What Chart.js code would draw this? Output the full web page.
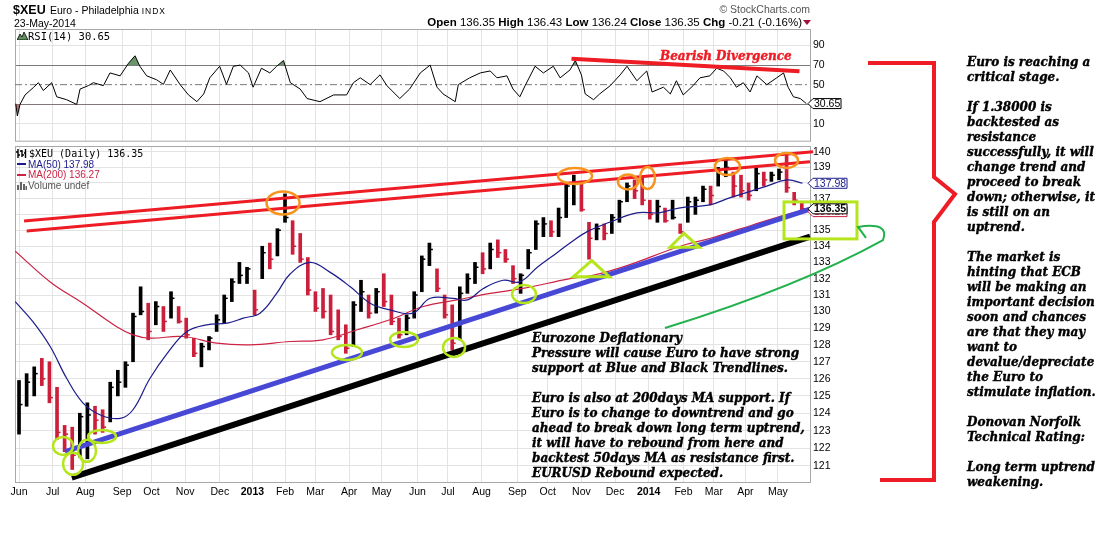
<!DOCTYPE html>
<html>
<head>
<meta charset="utf-8">
<script src="https://cdn.jsdelivr.net/npm/chart.js@4.4.1/dist/chart.umd.min.js"></script>
<style>
body{margin:0;background:#fff;}
#wrap{position:relative;width:1114px;height:539px;overflow:hidden;font-family:"Liberation Sans",Arial,sans-serif;color:#000;}
canvas{position:absolute;left:0;top:0;}
.t{position:absolute;white-space:pre;}
.note{font-family:"DejaVu Serif",serif;font-weight:bold;font-style:italic;font-size:12px;line-height:15px;color:#000;-webkit-text-stroke:0.4px #000;}
.mono{font-family:"DejaVu Sans Mono",monospace;}
</style>
</head>
<body>
<div id="wrap">
<canvas id="rsi" width="1114" height="150"></canvas>
<canvas id="main" width="1114" height="539"></canvas>

<svg width="1114" height="539" style="position:absolute;left:0;top:0">
  <polyline points="868,63 934,63 934,177 955,194 934,222 934,480 880,480" fill="none" stroke="#ee1c24" stroke-width="4"/>
</svg>

<!-- header -->
<div class="t" style="left:13px;top:3px;font-size:12.5px;line-height:14px;font-weight:bold">$XEU</div>
<div class="t" style="left:50px;top:4px;font-size:10.5px;line-height:13px">Euro - Philadelphia <span style="font-size:8.5px;letter-spacing:1px">INDX</span></div>
<div class="t" style="left:14px;top:17px;font-size:10.5px;line-height:13px">23-May-2014</div>
<div class="t" style="right:304px;top:3px;font-size:10.5px;line-height:12px;color:#555">© StockCharts.com</div>
<div class="t" style="right:312px;top:16px;font-size:11.5px;line-height:13px"><b>Open</b> 136.35 <b>High</b> 136.43 <b>Low</b> 136.24 <b>Close</b> 136.35 <b>Chg</b> -0.21 (-0.16%)</div>
<div style="position:absolute;left:803px;top:20px;width:0;height:0;border-left:4px solid transparent;border-right:4px solid transparent;border-top:5px solid #a0103a"></div>

<!-- RSI legend -->
<svg width="11" height="8" style="position:absolute;left:17px;top:32px"><polygon points="0,8 3,2 5,5 7,0 11,8" fill="#5f8f5f" stroke="#000" stroke-width="0.8"/></svg>
<div class="t mono" style="left:28px;top:30px;font-size:10.5px;line-height:12px">RSI(14) 30.65</div>
<div class="t note" style="left:660px;top:49px;font-size:12px;color:#ee1c24;-webkit-text-stroke:0.4px #ee1c24">Bearish Divergence</div>

<!-- main legend -->
<svg width="11" height="9" style="position:absolute;left:16px;top:149px"><path d="M2 0V9M0 3H2M2 6H4M6 1V8M4 2H6M6 6H8M9.5 0V9M8 4H9.5" stroke="#000" stroke-width="1.4" fill="none"/></svg>
<div class="t mono" style="left:29px;top:148px;font-size:10px;line-height:12px">$XEU (Daily) 136.35</div>
<div style="position:absolute;left:17px;top:163px;width:9px;height:2px;background:#1c1c8c"></div>
<div class="t" style="left:28px;top:158.5px;font-size:10px;line-height:12px;color:#1c1c8c">MA(50) 137.98</div>
<div style="position:absolute;left:17px;top:173.5px;width:9px;height:2px;background:#cc2244"></div>
<div class="t" style="left:28px;top:168.7px;font-size:10px;line-height:12px;color:#cc2244">MA(200) 136.27</div>
<svg width="10" height="8" style="position:absolute;left:17px;top:181.5px"><path d="M1 8V3M4 8V0M7 8V2M9.5 8V4" stroke="#666" stroke-width="2" fill="none"/></svg>
<div class="t" style="left:28px;top:179.7px;font-size:10px;line-height:12px;color:#555">Volume undef</div>

<!-- annotations -->
<div class="t note" style="left:532px;top:330.5px">Eurozone Deflationary
Pressure will cause Euro to have strong
support at Blue and Black Trendlines.

Euro is also at 200days MA support. If
Euro is to change to downtrend and go
ahead to break down long term uptrend,
it will have to rebound from here and
backtest 50days MA as resistance first.
EURUSD Rebound expected.</div>

<div class="t note" style="left:967px;top:55px">Euro is reaching a
critical stage.

If 1.38000 is
backtested as
resistance
successfully, it will
change trend and
proceed to break
down; otherwise, it
is still on an
uptrend.

The market is
hinting that ECB
will be making an
important decision
soon and chances
are that they may
want to
devalue/depreciate
the Euro to
stimulate inflation.

Donovan Norfolk
Technical Rating:

Long term uptrend
weakening.</div>
</div>

<script>
// ---- time axis: weeks counted from 1 Jun 2012 ----
const monthStarts = ['2012-06-01','2012-07-02','2012-08-01','2012-09-04','2012-10-01','2012-11-01','2012-12-03',
  '2013-01-02','2013-02-01','2013-03-01','2013-04-01','2013-05-01','2013-06-03','2013-07-01','2013-08-01',
  '2013-09-03','2013-10-01','2013-11-01','2013-12-02','2014-01-02','2014-02-03','2014-03-03','2014-04-01','2014-05-01'];
const monthLabels = ['Jun','Jul','Aug','Sep','Oct','Nov','Dec','2013','Feb','Mar','Apr','May','Jun','Jul','Aug',
  'Sep','Oct','Nov','Dec','2014','Feb','Mar','Apr','May'];

// weekly price bars (one per week, week 0 = 1 Jun 2012)
const highs = [125.9,126.3,126.7,127.2,127.0,125.5,123.3,123.2,124.0,124.6,
  124.4,124.2,125.8,126.5,127.0,129.9,131.5,130.5,130.6,130.3,
  131.2,130.3,129.6,128.4,128.1,128.5,129.8,131.0,132.0,133.0,
  132.7,131.3,134.0,134.2,135.1,137.3,135.6,134.8,133.3,131.2,
  131.4,131.0,130.1,129.2,130.6,131.9,131.0,131.4,132.3,131.0,
  129.6,129.8,131.2,133.4,134.2,132.6,131.0,130.4,131.5,132.3,
  133.0,133.6,134.2,134.4,133.8,132.8,132.3,133.8,135.6,135.8,
  135.6,136.4,138.0,138.5,138.0,135.5,135.4,135.4,136.0,136.9,
  138.0,138.2,138.4,136.9,136.9,136.4,136.9,135.4,137.1,137.1,
  137.8,137.8,139.0,139.5,138.7,138.5,138.0,139.0,138.7,138.7,
  138.9,139.8,137.4,136.8];
const lows = [122.8,124.4,125.0,125.6,124.6,122.5,121.8,120.8,121.5,121.4,
  122.8,122.9,123.5,125.0,125.5,127.0,129.8,128.3,129.2,128.8,
  129.6,129.3,128.4,127.3,126.7,127.7,128.8,129.3,130.6,131.7,
  131.7,129.8,132.0,132.6,133.4,135.5,133.5,133.0,131.0,130.0,
  129.6,128.6,128.3,127.5,127.9,130.0,129.6,129.9,130.3,129.2,
  128.4,128.6,129.6,131.2,132.8,131.2,129.6,127.7,128.3,131.1,
  131.7,132.3,132.6,133.3,133.0,131.7,131.1,132.6,133.8,134.6,
  134.6,134.6,135.8,136.6,136.2,133.2,134.4,134.4,134.8,135.5,
  136.8,137.0,136.6,135.7,135.5,135.5,135.7,134.8,135.5,136.0,
  136.8,136.6,137.8,138.4,137.1,137.1,136.9,137.5,137.8,138.1,
  138.2,137.4,136.6,136.2];
const closes = [124.5,125.8,126.3,126.0,124.9,122.9,122.8,121.6,123.8,123.9,
  123.6,123.2,125.5,125.8,126.8,129.7,130.0,128.8,130.3,129.4,
  130.8,129.4,128.6,127.5,127.9,128.4,129.5,130.8,131.8,132.2,
  132.6,130.1,133.6,133.2,135.0,135.8,134.0,133.2,131.3,130.2,
  130.0,128.8,128.5,127.8,130.4,131.2,129.9,131.2,130.6,129.4,
  128.6,129.6,131.0,133.2,133.8,131.4,129.8,128.1,131.1,132.0,
  132.7,132.6,133.8,133.6,133.2,132.0,132.2,133.6,135.4,135.4,
  134.9,135.8,137.8,138.0,136.3,134.5,135.1,134.8,135.8,136.8,
  137.8,137.5,136.9,136.0,136.5,135.6,135.8,134.9,136.8,136.9,
  137.6,137.2,138.8,139.0,137.8,137.5,137.2,138.6,138.2,138.5,
  138.7,137.7,136.9,136.35];

// moving averages, read at week positions
const ma50Weeks = [-0.5,1.8,4.1,6.3,8.4,10.7,13.3,15,17.2,19.5,22.1,24.7,27.4,29.5,31.7,33.9,35.7,38.3,40.9,43.6,
  46.2,48.8,51.8,54.1,57.1,59,61.1,63.7,65.9,68.2,70.8,72.5,74.7,77.7,81.3,84.2,86.8,90.9,93.2,95.8,98.4,101.1,103.1];
const ma50Values = [130.6,129.4,127.9,126,124.6,123.9,123.7,124.2,126,127.5,128.8,129.2,129.3,129.6,129.9,131.1,132.3,133,132.4,131.5,
  130.5,130.1,129.9,130.8,130.8,130.7,131.4,131.9,131.8,132.7,133.6,134.2,134.9,135.5,136.1,136.1,136.4,136.6,137,137.4,137.8,138.2,137.98];
const ma200Weeks = [-0.5,4.1,8.4,12.8,15,17.2,21.6,26,30.4,35.7,40,44.5,48.8,53.2,57.6,62,66.3,72.5,75.5,80,87,91,95,99,103.1];
const ma200Values = [133.7,131.8,130.5,129.1,128.6,128.4,128.5,128.1,128,128.2,128.3,128.9,129.5,130.3,130.7,131.1,131.4,132,132.2,132.8,134,134.5,135.1,135.7,136.27];

// RSI(14)
const rsiWeeks = [-0.43,-0.22,0.13,0.79,1.88,2.54,3.2,4.3,4.96,6.27,7.59,8.03,9.12,9.78,11.1,11.97,13.3,14.4,15.26,15.9,
  16.8,18.1,19.0,19.9,21.2,22.3,23.4,24.3,25.1,26.4,27.3,28.2,29.1,30.2,30.8,31.9,33.0,33.9,34.8,35.7,
  37.0,37.9,39.6,41.4,43.1,44.0,44.9,46.2,47.5,48.4,50.1,51.4,52.8,54.1,55.0,55.8,57.4,57.8,59.3,60.7,
  62.0,62.9,64.2,65.0,65.9,66.6,67.9,69.0,70.3,71.2,72.5,73.2,74.0,74.5,75.6,76.4,77.8,79.1,80.0,81.3,
  82.6,83.3,84.8,85.7,86.5,87.4,88.7,89.6,90.9,91.8,92.7,93.6,94.4,95.3,96.2,97.1,98.4,99.7,100.6,101.2,
  101.9,102.8,103.6];
const rsiValues = [30.6,18,29.8,39.5,47,52,44,52,37.6,34.6,29.8,45.5,49,52,49,62,59,71.8,79.5,68.8,
  59,55,50.3,65,50,39.5,32.6,40.5,57,68.8,50.3,68.8,70,62,47.4,66.8,62,68.8,74.7,52,
  45.5,35.8,32.6,39.5,39.5,52,57,50,60,49,35.8,45.5,62,70,47.4,40.5,32.6,50,57,62,
  64,57,59,45.5,37.6,49,68.8,62,68.8,57,65,74.7,60,40.5,34.6,40.5,49,60,68.8,54,
  64,42.5,47.4,40.5,54,39.5,49,57,59,66.8,64,57,47.4,52,42.5,59,50,57,62,47.4,
  37.6,35.8,30.65];

const priceTicks = [121,122,123,124,125,126,127,128,129,130,131,132,133,134,135,136,137,138,139,140];
const rsiTicks = [10,30,50,70,90];

// hand-drawn notes, in (week, price) / (week, rsi) units
const redTrend = [[[0.66,135.58],[104.5,140.02]], [[1.01,134.96],[104.08,139.37]]];
const blueTrend = [[6.05,121.8],[104.08,136.34]];
const blackTrend = [[6.93,120.34],[104.1,134.6]];
const orangeRings = [[34.74,136.72,16.5,11.5],[73.16,138.45,17,8],[80.13,138.06,10,7.5],[82.7,138.32,7.5,11],[93.22,139.06,12.5,8.5],[100.99,139.45,11.5,7.5]];
const limeRings = [[5.79,122.13,10,9],[7.11,121.12,10,11],[8.95,121.85,9,11],[10.92,122.67,14,6.5],[43.16,127.55,15,7.5],[50.66,128.32,14,7.5],[57.24,127.85,11,9.5],[66.45,131.06,12,9]];
const triangles = [[[75.36,133.11],[72.93,132.12],[77.67,132.12]], [[87.5,134.81],[85.66,133.94],[89.51,133.94]]];
const limeBox = [[100.66,136.79],[110.26,134.46]];
const divergence = [[72.7,76.6],[102.7,63.7]];

// ---- derived ----
const weekOf = d => (Date.parse(d) - Date.parse('2012-06-01')) / (7 * 86400000);
const monthTicks = monthStarts.map(weekOf);
const weeks = closes.map((_, i) => i);
const UP = '#000000', DOWN = '#cc1f3c';
const barColors = closes.map((c, i) => (i === 0 || c >= closes[i - 1]) ? UP : DOWN);
const XMIN = -0.53, XMAX = 104.08;
const GRID = '#e3e3e3';

Chart.defaults.font.family = '"Liberation Sans", Arial, sans-serif';
Chart.defaults.font.size = 10.5;
Chart.defaults.color = '#000';

const panelBorder = {
  id: 'panelBorder',
  beforeDatasetsDraw(chart) {
    const a = chart.chartArea, ctx = chart.ctx;
    ctx.save();
    ctx.strokeStyle = '#a8a8a8';
    ctx.lineWidth = 1;
    ctx.strokeRect(Math.round(a.left) + 0.5, Math.round(a.top) + 0.5, a.right - a.left, a.bottom - a.top);
    ctx.restore();
  }
};

function valueBox(ctx, x, yc, w, text, color, bold, fill) {
  ctx.beginPath();
  ctx.moveTo(x, yc);
  ctx.lineTo(x + 5, yc - 5);
  ctx.lineTo(x + w, yc - 5);
  ctx.lineTo(x + w, yc + 5);
  ctx.lineTo(x + 5, yc + 5);
  ctx.closePath();
  ctx.fillStyle = '#fff';
  ctx.fill();
  ctx.lineWidth = 1;
  ctx.strokeStyle = color;
  ctx.stroke();
  ctx.fillStyle = fill || color;
  ctx.font = (bold ? 'bold ' : '') + '10.5px "Liberation Sans", Arial, sans-serif';
  ctx.textBaseline = 'middle';
  ctx.textAlign = 'left';
  ctx.fillText(text, x + 6, yc + 0.5);
}

const rsiNotes = {
  id: 'rsiNotes',
  afterDatasetsDraw(chart) {
    const {ctx, scales: {x, y}} = chart;
    ctx.save();
    ctx.strokeStyle = '#ee1c24';
    ctx.lineWidth = 4;
    ctx.beginPath();
    ctx.moveTo(x.getPixelForValue(divergence[0][0]), y.getPixelForValue(divergence[0][1]));
    ctx.lineTo(x.getPixelForValue(divergence[1][0]), y.getPixelForValue(divergence[1][1]));
    ctx.stroke();
    ctx.restore();
  },
  afterDraw(chart) {
    const {ctx, scales: {y}, chartArea} = chart;
    ctx.save();
    valueBox(ctx, chartArea.right - 2, y.getPixelForValue(rsiValues[rsiValues.length - 1]), 33, '30.65', '#000');
    ctx.restore();
  }
};

new Chart(document.getElementById('rsi'), {
  type: 'line',
  data: {
    datasets: [
      { data: rsiWeeks.map((w, i) => ({x: w, y: rsiValues[i]})), borderColor: '#000', borderWidth: 1, pointRadius: 0, tension: 0,
        fill: {target: {value: 70}, above: 'rgba(90,138,90,0.9)', below: 'rgba(0,0,0,0)'} },
      { data: rsiWeeks.map((w, i) => ({x: w, y: rsiValues[i]})), borderColor: 'rgba(0,0,0,0)', borderWidth: 0, pointRadius: 0, tension: 0,
        fill: {target: {value: 30}, above: 'rgba(0,0,0,0)', below: 'rgba(170,100,100,0.9)'} },
      { data: [{x: XMIN, y: 50}, {x: XMAX, y: 50}], borderColor: '#7a7a7a', borderWidth: 1, borderDash: [7, 3, 2, 3], pointRadius: 0, fill: false }
    ]
  },
  options: {
    responsive: false, animation: false, events: [],
    layout: {padding: {left: 15, right: 264, top: 29, bottom: 4}},
    plugins: {legend: {display: false}, tooltip: {enabled: false}},
    scales: {
      x: {
        type: 'linear', min: XMIN, max: XMAX,
        afterBuildTicks: s => { s.ticks = monthTicks.map(v => ({value: v})); },
        afterFit: s => { s.height = 0; },
        ticks: {display: false},
        grid: {color: GRID, drawTicks: false},
        border: {display: false}
      },
      y: {
        position: 'right', min: -7.3, max: 106.9,
        afterBuildTicks: s => { s.ticks = rsiTicks.map(v => ({value: v})); },
        afterFit: s => { s.width = 40; },
        ticks: {padding: 3, callback: v => v === 30 ? '' : v},
        grid: {
          drawTicks: false,
          color: c => {
            const v = c.tick ? c.tick.value : null;
            if (v === 30 || v === 70) return '#7a7a7a';
            if (v === 50) return 'rgba(0,0,0,0)';
            return GRID;
          }
        },
        border: {display: false}
      }
    }
  },
  plugins: [panelBorder, rsiNotes]
});

const mainNotes = {
  id: 'mainNotes',
  afterDatasetsDraw(chart) {
    const {ctx, scales: {x, y}} = chart;
    const P = pt => [x.getPixelForValue(pt[0]), y.getPixelForValue(pt[1])];
    ctx.save();
    // close ticks of the bars
    ctx.lineWidth = 1.5;
    closes.forEach((c, i) => {
      const [cx, cy] = P([weeks[i], c]);
      ctx.strokeStyle = barColors[i];
      ctx.beginPath();
      ctx.moveTo(cx, cy);
      ctx.lineTo(cx + 3.5, cy);
      ctx.stroke();
    });
    const seg = (a, b, color, width) => {
      const p = P(a), q = P(b);
      ctx.strokeStyle = color;
      ctx.lineWidth = width;
      ctx.beginPath();
      ctx.moveTo(p[0], p[1]);
      ctx.lineTo(q[0], q[1]);
      ctx.stroke();
    };
    seg(blackTrend[0], blackTrend[1], '#000', 6);
    seg(blueTrend[0], blueTrend[1], '#4848d6', 5);
    redTrend.forEach(l => seg(l[0], l[1], '#ee1c24', 3));

    ctx.lineWidth = 2.5;
    ctx.strokeStyle = '#f7941d';
    orangeRings.forEach(r => {
      const [cx, cy] = P(r);
      ctx.beginPath();
      ctx.ellipse(cx, cy, r[2], r[3], 0, 0, Math.PI * 2);
      ctx.stroke();
    });
    ctx.strokeStyle = '#b5e51d';
    limeRings.forEach(r => {
      const [cx, cy] = P(r);
      ctx.beginPath();
      ctx.ellipse(cx, cy, r[2], r[3], 0, 0, Math.PI * 2);
      ctx.stroke();
    });
    ctx.lineWidth = 3;
    triangles.forEach(t => {
      ctx.beginPath();
      t.forEach((pt, i) => { const p = P(pt); i ? ctx.lineTo(p[0], p[1]) : ctx.moveTo(p[0], p[1]); });
      ctx.closePath();
      ctx.stroke();
    });
    const b0 = P(limeBox[0]), b1 = P(limeBox[1]);
    ctx.strokeRect(b0[0], b0[1], b1[0] - b0[0], b1[1] - b0[1]);

    // green arrow towards the box
    const a0 = P([85.0, 129.01]), ac = P([102.76, 131.55]), a1 = P([113.68, 134.39]),
          cc = P([114.6, 135.52]), tip = P([110.4, 135.21]), wing = P([111.45, 134.52]);
    ctx.strokeStyle = '#22b14c';
    ctx.lineWidth = 2;
    ctx.beginPath();
    ctx.moveTo(a0[0], a0[1]);
    ctx.quadraticCurveTo(ac[0], ac[1], a1[0], a1[1]);
    ctx.quadraticCurveTo(cc[0], cc[1], tip[0], tip[1]);
    ctx.lineTo(wing[0], wing[1]);
    ctx.stroke();
    ctx.restore();
  },
  afterDraw(chart) {
    const {ctx, scales: {y}, chartArea} = chart;
    const xr = chartArea.right - 2;
    ctx.save();
    valueBox(ctx, xr, y.getPixelForValue(ma50Values[ma50Values.length - 1]), 39, '137.98', '#1c1c8c');
    valueBox(ctx, xr, y.getPixelForValue(ma200Values[ma200Values.length - 1]) + 1.5, 39, '136.27', '#cc2244');
    valueBox(ctx, xr, y.getPixelForValue(closes[closes.length - 1]), 39, '136.35', '#000', true);
    ctx.restore();
  }
};

new Chart(document.getElementById('main'), {
  type: 'bar',
  data: {
    datasets: [
      { type: 'line', label: 'MA(50)', data: ma50Weeks.map((w, i) => ({x: w, y: ma50Values[i]})),
        borderColor: '#1c1c8c', borderWidth: 1.2, pointRadius: 0, tension: 0.4, order: 0 },
      { type: 'line', label: 'MA(200)', data: ma200Weeks.map((w, i) => ({x: w, y: ma200Values[i]})),
        borderColor: '#cc2244', borderWidth: 1.2, pointRadius: 0, tension: 0.4, order: 0 },
      { type: 'bar', label: '$XEU', data: weeks.map((w, i) => ({x: w, y: [lows[i], highs[i]]})),
        backgroundColor: barColors, barThickness: 3, borderWidth: 0, order: 1 }
    ]
  },
  options: {
    responsive: false, animation: false, events: [],
    layout: {padding: {left: 15, right: 264, top: 146, bottom: 37}},
    plugins: {legend: {display: false}, tooltip: {enabled: false}},
    scales: {
      x: {
        type: 'linear', min: XMIN, max: XMAX, offset: false,
        afterBuildTicks: s => { s.ticks = monthTicks.map(v => ({value: v})); },
        afterFit: s => { s.height = 20; },
        ticks: {
          padding: 4, autoSkip: false, maxRotation: 0,
          callback: (v, i) => monthLabels[i],
          font: c => ({size: 10.5, weight: /^\d{4}$/.test(monthLabels[c.index]) ? 'bold' : 'normal'})
        },
        grid: {color: GRID, drawTicks: false, offset: false},
        border: {display: false}
      },
      y: {
        type: 'logarithmic', position: 'right', min: 120.1, max: 140.39,
        afterBuildTicks: s => { s.ticks = priceTicks.map(v => ({value: v})); },
        afterFit: s => { s.width = 40; },
        ticks: {padding: 3, callback: v => String(v)},
        grid: {color: GRID, drawTicks: false},
        border: {display: false}
      }
    }
  },
  plugins: [panelBorder, mainNotes]
});
</script>
</body>
</html>
